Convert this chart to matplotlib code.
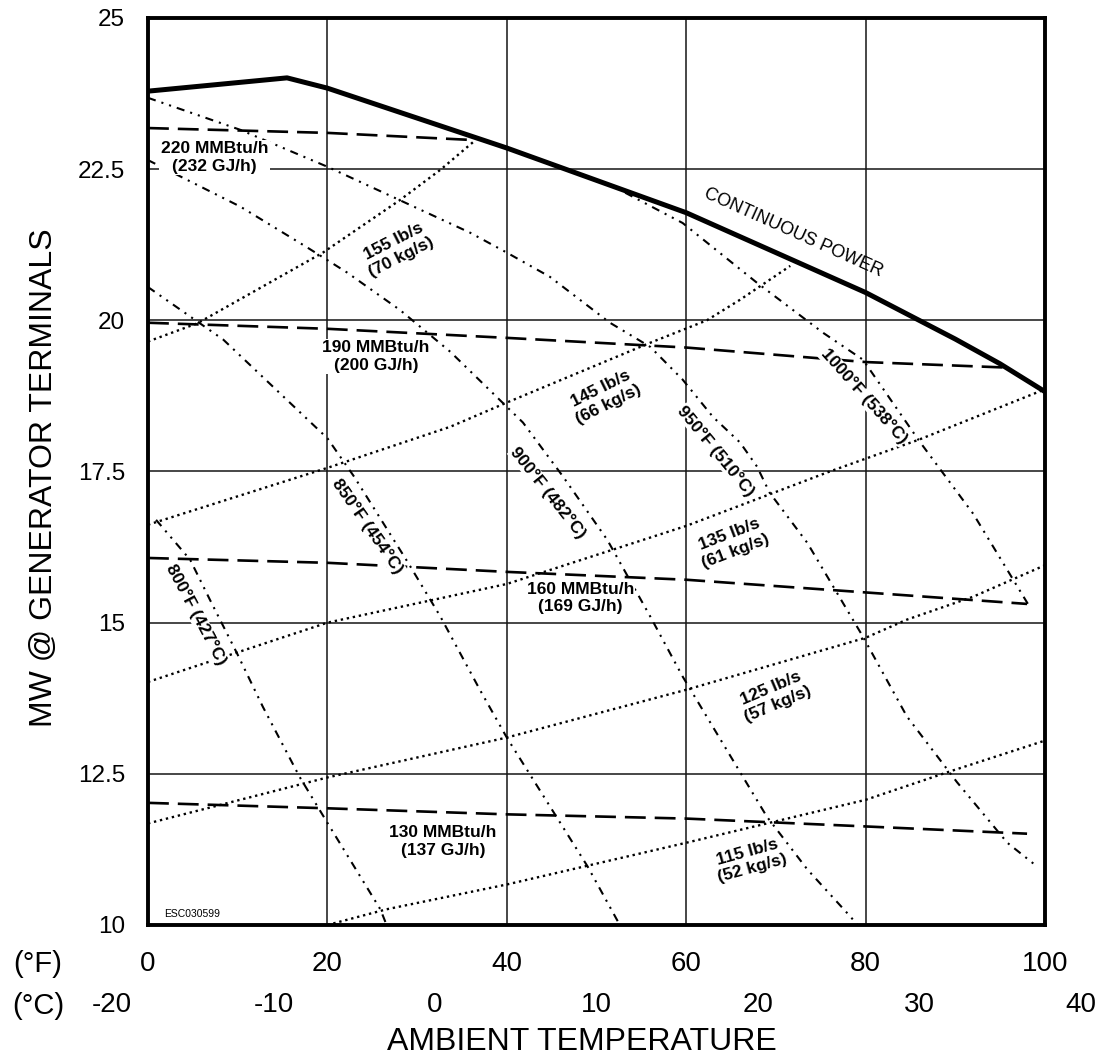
import matplotlib.pyplot as plt
from matplotlib import font_manager
from matplotlib.transforms import blended_transform_factory

# ----------------------------------------------------------------------------
# values (x = ambient temperature in °F, y = MW)
# ----------------------------------------------------------------------------
f_ticks = [0, 20, 40, 60, 80, 100]
c_ticks = [-20, -10, 0, 10, 20, 30, 40]
mw_ticks = [10, 12.5, 15, 17.5, 20, 22.5, 25]
mw_labels = ['10', '12.5', '15', '17.5', '20', '22.5', '25']

# continuous power limit
power_f = [0, 15.5, 20, 40, 60, 80, 90, 95, 100]
power_mw = [23.79, 24.01, 23.84, 22.85, 21.78, 20.46, 19.69, 19.28, 18.82]

# heat input (dashed)
hi220_f = [0, 20, 36.5]
hi220_mw = [23.18, 23.10, 22.98]
hi190_f = [0, 20, 40, 60, 80, 95.5]
hi190_mw = [19.96, 19.86, 19.71, 19.55, 19.31, 19.22]
hi160_f = [0, 20, 40, 60, 80, 98]
hi160_mw = [16.07, 15.99, 15.84, 15.71, 15.50, 15.31]
hi130_f = [0, 20, 40, 60, 80, 98]
hi130_mw = [12.02, 11.93, 11.83, 11.76, 11.63, 11.51]
heat_names = ['220 MMBtu/h\n(232 GJ/h)', '190 MMBtu/h\n(200 GJ/h)',
              '160 MMBtu/h\n(169 GJ/h)', '130 MMBtu/h\n(137 GJ/h)']

# exhaust flow (dotted)
af155_f = [0, 5.5, 19.5, 28, 32.6, 36.5]
af155_mw = [19.65, 19.95, 21.12, 21.98, 22.49, 22.98]
af145_f = [0, 20, 33.7, 40, 56, 62.3, 66, 71.6]
af145_mw = [16.62, 17.56, 18.24, 18.64, 19.63, 20.0, 20.34, 20.9]
af135_f = [0, 20, 40, 60, 76, 86, 100]
af135_mw = [14.02, 15.0, 15.64, 16.6, 17.5, 18.03, 18.86]
af125_f = [0, 20, 40, 60, 80, 84.6, 92, 100]
af125_mw = [11.68, 12.44, 13.10, 13.89, 14.75, 15.05, 15.43, 15.95]
af115_f = [20, 26.6, 40, 60, 80, 89.4, 100]
af115_mw = [10.0, 10.26, 10.67, 11.36, 12.07, 12.54, 13.05]
flow_names = ['155 lb/s\n(70 kg/s)', '145 lb/s\n(66 kg/s)', '135 lb/s\n(61 kg/s)',
              '125 lb/s\n(57 kg/s)', '115 lb/s\n(52 kg/s)']

# exhaust temperature (dash-dot-dot)
t800_f = [0.9, 2.8, 4.7, 6.9, 9.9, 12.8, 16.9, 20, 25.9, 26.6]
t800_mw = [16.7, 16.37, 16.04, 15.38, 14.50, 13.61, 12.45, 11.69, 10.26, 10.0]
t850_f = [0, 8.4, 20, 23, 29, 32.6, 37, 40, 49, 52.6]
t850_mw = [20.55, 19.68, 18.05, 17.41, 15.99, 15.1, 13.89, 13.1, 10.97, 10.0]
t900_f = [0, 2.8, 10.3, 17.7, 22.2, 28.1, 33.7, 41.8, 46.3, 51.2, 56, 59.6,
          64.5, 69, 73.5, 78.3, 79.1]
t900_mw = [22.65, 22.44, 21.88, 21.21, 20.79, 20.17, 19.48, 18.31, 17.41, 16.37,
           15.10, 14.11, 12.90, 11.79, 10.92, 10.14, 10.0]
t950_f = [0, 10.3, 20, 27.3, 35.9, 40, 44.8, 51.5, 56, 59.6, 63, 66, 67.9, 69.3,
          73.5, 79.7, 84.6, 90.2, 95.8, 99.1]
t950_mw = [23.68, 23.15, 22.54, 22.04, 21.45, 21.12, 20.72, 19.96, 19.56, 19.02,
           18.40, 17.98, 17.58, 17.15, 16.32, 14.77, 13.45, 12.36, 11.36, 10.97]
t1000_f = [53.2, 59.6, 67.9, 75.3, 79.7, 86, 92, 98.3]
t1000_mw = [22.11, 21.61, 20.62, 19.79, 19.35, 18.0, 16.8, 15.26]
temp_names = ['800°F (427°C)', '850°F (454°C)', '900°F (482°C)',
              '950°F (510°C)', '1000°F (538°C)']

# ----------------------------------------------------------------------------
# fonts / figure
# ----------------------------------------------------------------------------
plt.rcParams['font.family'] = ['Liberation Sans', 'DejaVu Sans']
names = {f.name for f in font_manager.fontManager.ttflist}
if 'Liberation Sans Narrow' in names:
    label_font, label_size = 'Liberation Sans Narrow', 27
else:
    label_font, label_size = 'Liberation Sans', 23

W, H = 1101, 1056
fig = plt.figure(figsize=(W / 100, H / 100), dpi=100)
ax = fig.add_axes([148 / W, 1 - 925 / H, 897 / W, 907 / H])
ax.set_xlim(0, 100)
ax.set_ylim(10, 25)

ax.set_axisbelow(True)
ax.grid(True, color='#151515', lw=1.1)
for s in ax.spines.values():
    s.set_linewidth(2.8)
    s.set_zorder(8)

ax.set_xticks(f_ticks)
ax.set_xticklabels([str(v) for v in f_ticks], fontsize=20)
ax.set_yticks(mw_ticks)
ax.set_yticklabels(mw_labels, fontsize=17.5)
ax.tick_params(axis='x', length=0, pad=19)
ax.tick_params(axis='y', length=0, pad=16.5)

# second temperature scale in °C, placed at the matching °F position
tr = blended_transform_factory(ax.transData, fig.transFigure)
for c in c_ticks:
    ax.text(c * 9 / 5 + 32, 1 - 1005 / H, str(c), transform=tr, ha='center',
            va='center', fontsize=20, clip_on=False)
fig.text(38 / W, 1 - 964 / H, '(°F)', ha='center', va='center', fontsize=21)
fig.text(38 / W, 1 - 1006 / H, '(°C)', ha='center', va='center', fontsize=21)

ax.set_ylabel('MW @ GENERATOR TERMINALS', family=label_font, fontsize=label_size)
ax.yaxis.set_label_coords((59 - 148) / 897, (925 - 478) / 907)
ax.set_xlabel('AMBIENT TEMPERATURE', family=label_font, fontsize=label_size)
ax.xaxis.set_label_coords((582 - 148) / 897, (925 - 1027) / 907)

# ----------------------------------------------------------------------------
# curves
# ----------------------------------------------------------------------------
dash = dict(color='black', lw=1.9, ls=(0, (7.9, 3.4)), zorder=3)
dots = dict(color='black', lw=1.7, ls=(0, (1, 1.6)), zorder=3)
ddot = dict(color='black', lw=1.5, ls=(0, (3.9, 2.9, 1, 2.9, 1, 2.9)), zorder=3)

for xs, ys in [(hi220_f, hi220_mw), (hi190_f, hi190_mw),
               (hi160_f, hi160_mw), (hi130_f, hi130_mw)]:
    ax.plot(xs, ys, **dash)
for xs, ys in [(af155_f, af155_mw), (af145_f, af145_mw), (af135_f, af135_mw),
               (af125_f, af125_mw), (af115_f, af115_mw)]:
    ax.plot(xs, ys, **dots)
for xs, ys in [(t800_f, t800_mw), (t850_f, t850_mw), (t900_f, t900_mw),
               (t950_f, t950_mw), (t1000_f, t1000_mw)]:
    ax.plot(xs, ys, **ddot)

ax.plot(power_f, power_mw, color='black', lw=3.6, zorder=5)

# ----------------------------------------------------------------------------
# labels on the map
# ----------------------------------------------------------------------------
box = dict(facecolor='white', edgecolor='none', pad=1.0)
heat_pos = [(7.4, 22.69), (25.4, 19.40), (48.2, 15.41), (32.9, 11.38)]
for txt, (x, y) in zip(heat_names, heat_pos):
    ax.text(x, y, txt, ha='center', va='center', multialignment='center',
            fontsize=12.5, fontweight='bold', bbox=box, zorder=7)

flow_pos = [(27.8, 21.17, 27), (50.9, 18.74, 26.5), (65.2, 16.32, 21),
            (69.8, 13.78, 23), (67.1, 11.07, 15.5)]
for txt, (x, y, rot) in zip(flow_names, flow_pos):
    ax.text(x, y, txt, ha='center', va='center', multialignment='center',
            rotation=rot, rotation_mode='anchor', fontsize=12.5,
            fontweight='bold', zorder=7)

temp_pos = [(5.35, 15.13, -62), (24.5, 16.59, -55), (44.6, 17.15, -51.5),
            (63.3, 17.84, -50.5), (79.8, 18.74, -48.3)]
for txt, (x, y, rot) in zip(temp_names, temp_pos):
    ax.text(x, y, txt, ha='center', va='center', rotation=rot,
            rotation_mode='anchor', fontsize=12.5, fontweight='bold',
            bbox=dict(facecolor='white', edgecolor='none', pad=0.3), zorder=7)

ax.text(71.9, 21.45, 'CONTINUOUS POWER', ha='center', va='center',
        rotation=-24.2, rotation_mode='anchor', fontsize=13, zorder=7)
ax.text(4.9, 10.19, 'ESC030599', ha='center', va='center', fontsize=7.5, zorder=7)

fig.savefig('out.png', dpi=100)
